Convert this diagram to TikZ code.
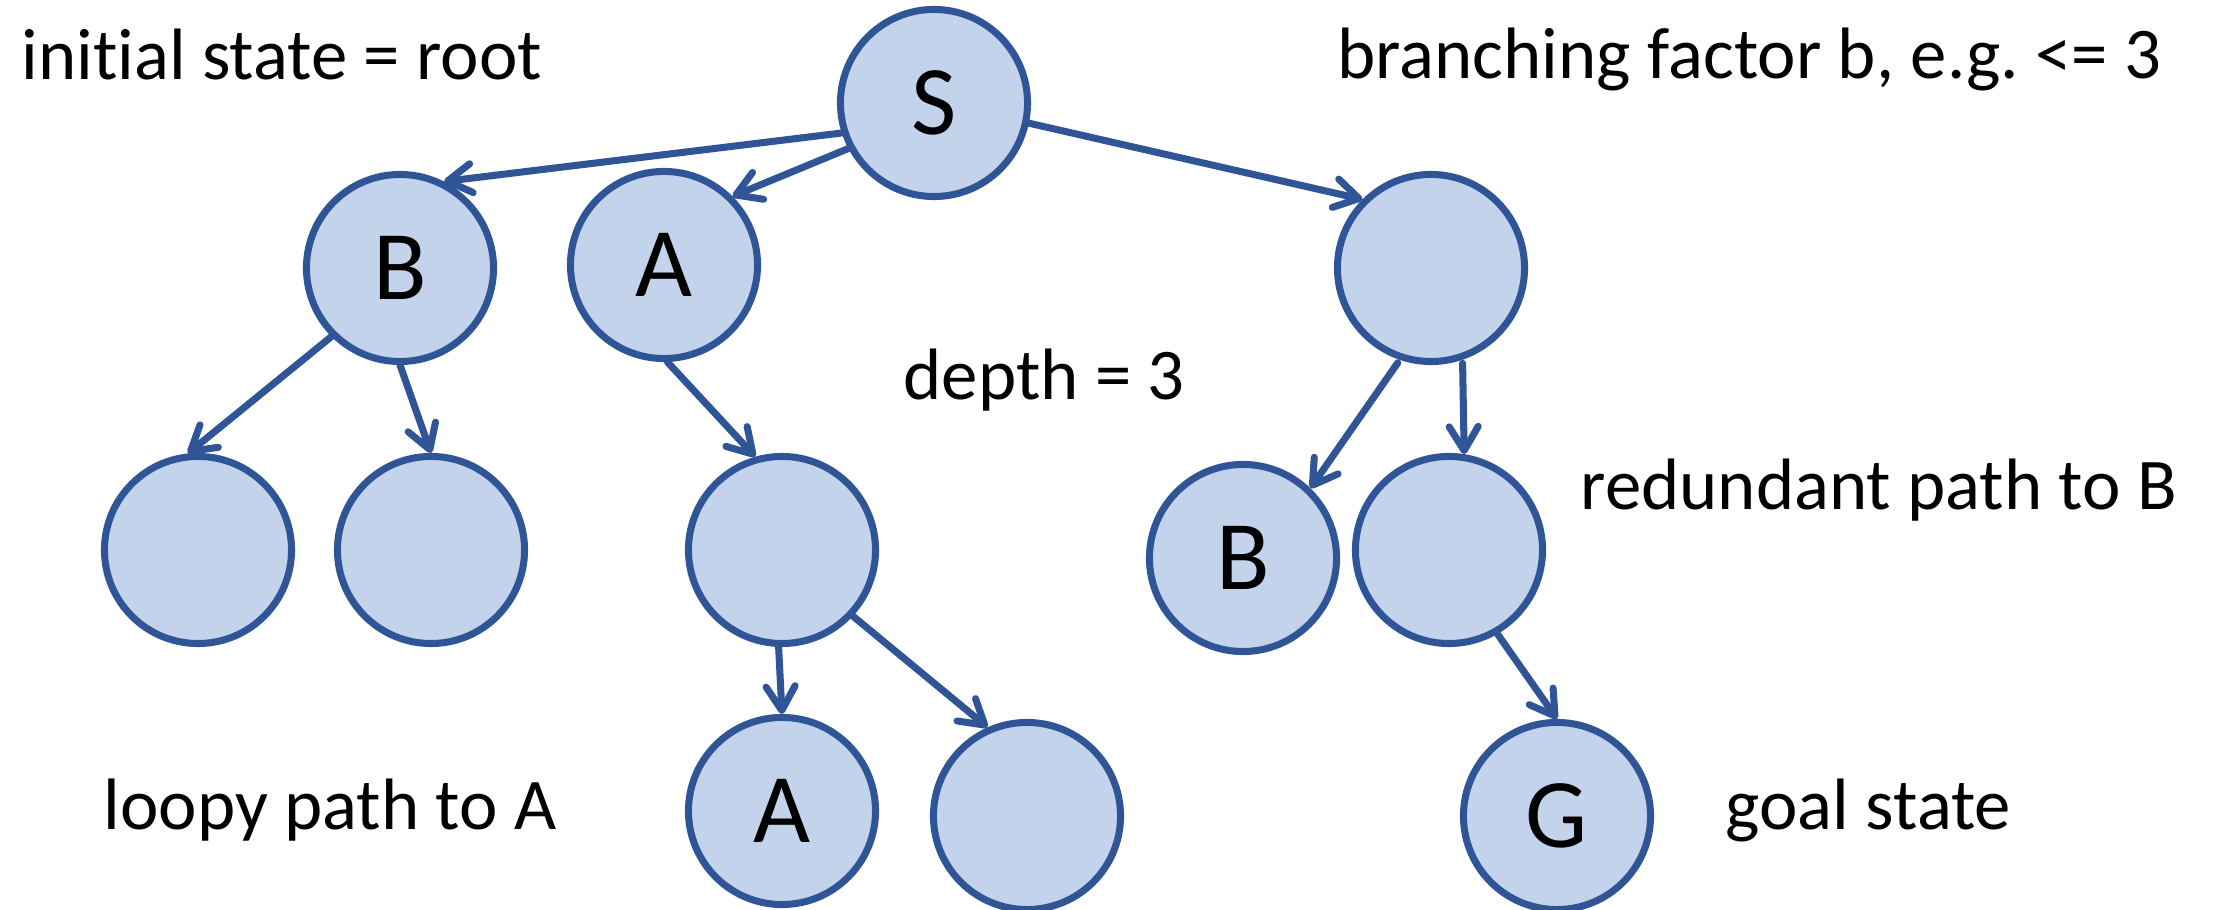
\documentclass[tikz,border=0pt]{standalone}
\usepackage{fontspec}
\setmainfont{Carlito}[Ligatures=NoCommon]
\usetikzlibrary{arrows.meta}
\definecolor{nodefill}{RGB}{195,211,236}
\definecolor{nodeline}{RGB}{47,85,151}
\frenchspacing
\begin{document}
\begin{tikzpicture}[x=0.01cm,y=-0.01cm,
  state/.style={circle,draw=nodeline,fill=nodefill,line width=2pt,
    minimum size=1.87cm,inner sep=0pt,
    font=\fontsize{28}{32}\selectfont},
  edge/.style={draw=nodeline,line width=2pt,line cap=round,
    -{Straight Barb[length=2.4mm,width=2.9mm,line cap=round,line join=round]}},
  note/.style={anchor=base west,inner sep=0pt,
    font=\fontsize{20.7}{24}\selectfont}]
\useasboundingbox (0,0) rectangle (2220,910);

% search tree nodes
\node[state] (s)   at (934,103)  {S};
\node[state] (b1)  at (400,268)  {B};
\node[state] (a1)  at (664,265)  {A};
\node[state] (r1)  at (1431,268) {};
\node[state] (ll2) at (198,550)  {};
\node[state] (lr2) at (431,550)  {};
\node[state] (al2) at (782,550)  {};
\node[state] (bl2) at (1243,558) {B};
\node[state] (rm2) at (1449,550) {};
\node[state] (al3) at (782,811)  {A};
\node[state] (rl3) at (1027,816) {};
\node[state] (g)   at (1557,816) {G};

% successor edges
\draw[edge] (s.198.4) -- (b1.63);
\draw[edge] (s.208.8) -- (a1.45);
\draw[edge] (s.348)   -- (r1.135);
\draw[edge] (b1.225)  -- (ll2.96.5);
\draw[edge] (b1.270)  -- (lr2.90);
\draw[edge] (a1.272)  -- (al2.106);
\draw[edge] (al2.268) -- (al3.90);
\draw[edge] (al2.317) -- (rl3.114);
\draw[edge] ([yshift=-1pt]r1.250) -- (bl2.46);
\draw[edge] ([yshift=-1pt]r1.289) -- (rm2.81);
\draw[edge] (rm2.300) -- (g.90);

% annotations
\node[note] (tinit)   at (21,80)    {initial state = root};
\node[note] (tbranch) at (1337,79)  {branching factor b, e.g. <= 3};
\node[note] (tdepth)  at (903,400)  {depth = 3};
\node[note] (tredund) at (1580,510) {redundant path to B};
\node[note] (tloopy)  at (103,830)  {loopy path to A};
\node[note] (tgoal)   at (1725,830) {goal state};
\end{tikzpicture}
\end{document}
